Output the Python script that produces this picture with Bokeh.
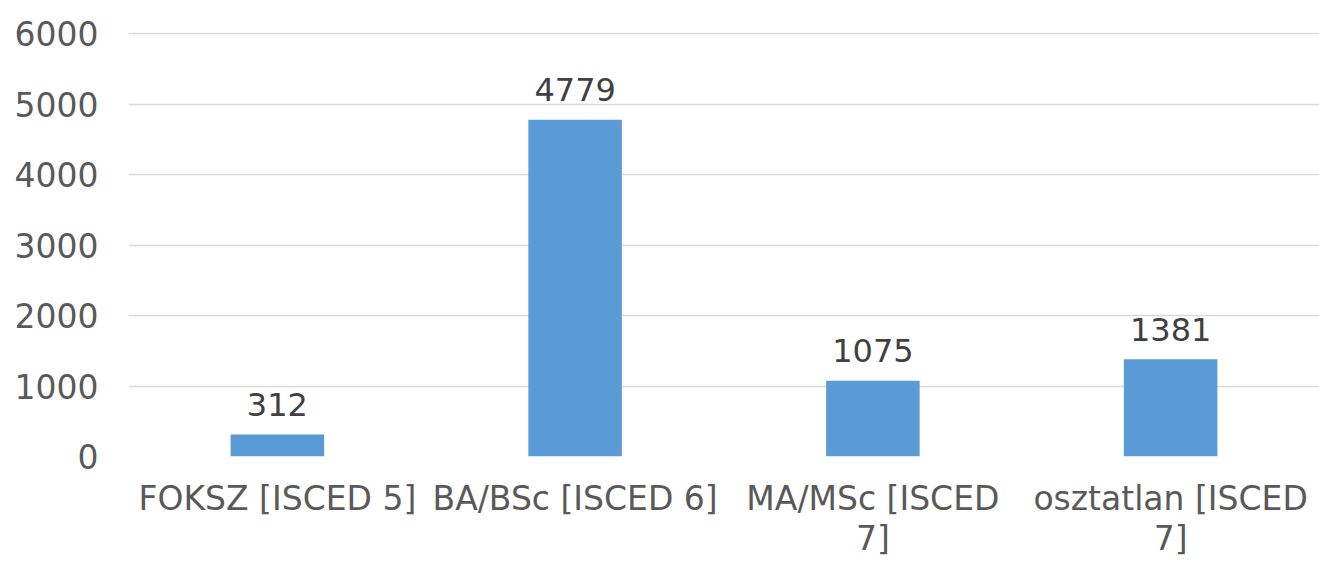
from bokeh.plotting import figure
from bokeh.models import ColumnDataSource, FactorRange, Range1d, SingleIntervalTicker
from bokeh.core.properties import value
from bokeh.embed import file_html
from bokeh.resources import INLINE

categories = ["FOKSZ [ISCED 5]", "BA/BSc [ISCED 6]", "MA/MSc [ISCED 7]", "osztatlan [ISCED 7]"]
counts = [312, 4779, 1075, 1381]
# axis labels as wrapped in the original chart
axis_labels = ["FOKSZ [ISCED 5]", "BA/BSc [ISCED 6]", "MA/MSc [ISCED\n7]", "osztatlan [ISCED\n7]"]

FONT = "DejaVu Sans"

src = ColumnDataSource(dict(cat=axis_labels, name=categories, val=counts, lab=[str(v) for v in counts]))

p = figure(
    x_range=FactorRange(factors=axis_labels, range_padding=0),
    y_range=Range1d(0, 6015),
    width=1319, height=561,
    output_backend="svg", toolbar_location=None,
    min_border_left=128, min_border_right=0, min_border_top=32, min_border_bottom=60,
)
p.outline_line_color = None
p.background_fill_color = "white"
p.border_fill_color = "white"

p.vbar(x="cat", top="val", width=0.314, source=src, fill_color="#5B9BD5", line_color=None)
p.text(x="cat", y="val", text="lab", source=src, text_align="center", text_baseline="alphabetic",
       y_offset=-30, text_font=value(FONT), text_font_size="32px", text_color="#404040")

p.yaxis.ticker = SingleIntervalTicker(interval=1000)
for ax in (p.xaxis[0], p.yaxis[0]):
    ax.axis_line_color = None
    ax.major_tick_line_color = None
    ax.minor_tick_line_color = None
    ax.major_label_text_font = FONT
    ax.major_label_text_font_size = "33px"
    ax.major_label_text_color = "#595959"
    ax.major_tick_out = 0
    ax.major_tick_in = 0
p.yaxis.major_label_standoff = 26
p.xaxis.major_label_standoff = 22
p.xaxis.major_label_text_line_height = 1.05

p.xgrid.grid_line_color = None
p.ygrid.grid_line_color = "#D9D9D9"
p.ygrid.grid_line_width = 1.5

open("out.html", "w").write(file_html(p, INLINE))
